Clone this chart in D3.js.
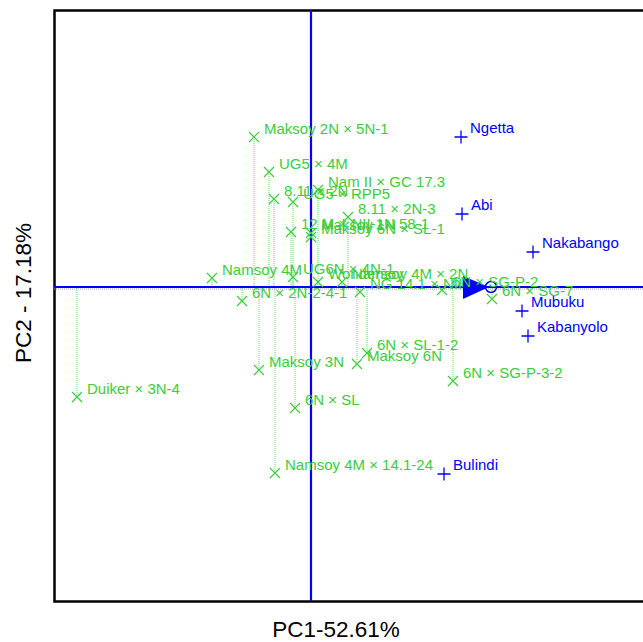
<!DOCTYPE html>
<html><head><meta charset="utf-8">
<script src="https://cdn.jsdelivr.net/npm/d3@7"></script>
<style>body{margin:0;background:#fff} svg{display:block}</style>
</head><body>
<svg id="chart" width="643" height="642"></svg>
<script>
// Genotype scores (PC1, PC2)
const genotypes = [
  "Maksoy 2N \u00d7 5N-1", "UG5 \u00d7 4M", "8.11 \u00d7 2N", "UG5 \u00d7 RPP5", "Nam II \u00d7 GC 17.3",
  "8.11 \u00d7 2N-3", "12 M \u00d7 NII-1N 58-1", "Maksoy 1N", "Maksoy 6N \u00d7 SL-1", "Namsoy 4M",
  "UG6N \u00d7 4N-1", "Wondersoy", "Namsoy 4M \u00d7 2N", "NG 14.1 \u00d7 NII", "6N \u00d7 2N-2-4-1",
  "6N \u00d7 SG-P-2", "6N \u00d7 SG-7", "6N \u00d7 SL-1-2", "Maksoy 6N", "6N \u00d7 SG-P-3-2",
  "Maksoy 3N", "Duiker \u00d7 3N-4", "6N \u00d7 SL", "Namsoy 4M \u00d7 14.1-24"
];
const genoPC1 = [-0.57, -0.42, -0.37, -0.18, 0.07, 0.37, -0.20, 0.00, 0.00, -0.99,
  -0.18, 0.07, 0.31, 0.49, -0.69, 1.31, 1.81, 0.56, 0.46, 1.42, -0.52, -2.34, -0.16, -0.36];
const genoPC2 = [1.50, 1.15, 0.88, 0.85, 0.97, 0.70, 0.55, 0.54, 0.50, 0.09,
  0.10, 0.05, 0.05, -0.05, -0.14, -0.03, -0.12, -0.66, -0.77, -0.94, -0.83, -1.10, -1.21, -1.86];

// Environment scores (PC1, PC2)
const environments = ["Ngetta", "Abi", "Nakabango", "Mubuku", "Kabanyolo", "Bulindi"];
const envPC1 = [1.50, 1.51, 2.22, 2.11, 2.17, 1.33];
const envPC2 = [1.50, 0.73, 0.35, -0.24, -0.49, -1.87];

// Average environment coordinate
const averageEnv = [1.80, 0.0];

const xTitle = "PC1-52.61%";
const yTitle = "PC2 - 17.18%";

const green = "#3ccc3c", blue = "#0000ff";
const svg = d3.select("#chart");
const x = d3.scaleLinear().domain([-2.57, 3.34]).range([54, 645]);
const y = d3.scaleLinear().domain([-3.14, 2.77]).range([601, 10]);

const geno = genotypes.map((name, i) => ({name, pc1: genoPC1[i], pc2: genoPC2[i]}));
const envs = environments.map((name, i) => ({name, pc1: envPC1[i], pc2: envPC2[i]}));

// projections of genotypes onto the average-environment axis
svg.append("g").selectAll("line").data(geno).join("line")
  .attr("x1", d => x(d.pc1)).attr("x2", d => x(d.pc1))
  .attr("y1", d => y(d.pc2)).attr("y2", y(0))
  .attr("stroke", "#6fd86f").attr("stroke-width", 1).attr("stroke-dasharray", "1,1");

// frame
svg.append("rect").attr("x", 54.5).attr("y", 10.5).attr("width", 591).attr("height", 591)
  .attr("fill", "none").attr("stroke", "#000").attr("stroke-width", 2.5);

// average-environment axis and its ordinate
svg.append("line").attr("x1", 54).attr("x2", 645).attr("y1", y(0) + 2).attr("y2", y(0) + 2)
  .attr("stroke", "#9a9ac8").attr("stroke-width", 1).attr("stroke-dasharray", "1,1");
svg.append("line").attr("x1", 54).attr("x2", 645).attr("y1", y(0)).attr("y2", y(0))
  .attr("stroke", blue).attr("stroke-width", 2.2);
svg.append("line").attr("x1", x(0)).attr("x2", x(0)).attr("y1", 10).attr("y2", 601)
  .attr("stroke", blue).attr("stroke-width", 2.2);

// arrow towards the average environment
const ax = x(averageEnv[0]), ay = y(averageEnv[1]);
svg.append("path")
  .attr("d", `M${ax - 28},${ay - 11} L${ax - 2},${ay} L${ax - 28},${ay + 12} Z`)
  .attr("fill", blue);
svg.append("circle").attr("cx", ax).attr("cy", ay).attr("r", 5.5)
  .attr("fill", "none").attr("stroke", blue).attr("stroke-width", 1.5);

// genotype markers (x)
const gm = svg.append("g").attr("stroke", green).attr("stroke-width", 1.2);
gm.selectAll("path").data(geno).join("path")
  .attr("d", d => { const cx = x(d.pc1), cy = y(d.pc2), s = 5;
    return `M${cx - s},${cy - s}L${cx + s},${cy + s}M${cx - s},${cy + s}L${cx + s},${cy - s}`; });

// environment markers (+)
const em = svg.append("g").attr("stroke", blue).attr("stroke-width", 1.3);
em.selectAll("path").data(envs).join("path")
  .attr("d", d => { const cx = x(d.pc1), cy = y(d.pc2), s = 6.5;
    return `M${cx - s},${cy}L${cx + s},${cy}M${cx},${cy - s}L${cx},${cy + s}`; });

const font = "'Liberation Sans', Arial, Helvetica, sans-serif";
svg.append("g").selectAll("text").data(geno).join("text")
  .attr("x", d => x(d.pc1) + 10).attr("y", d => y(d.pc2) - 3)
  .attr("fill", green).attr("font-family", font).attr("font-size", 15)
  .text(d => d.name);
svg.append("g").selectAll("text").data(envs).join("text")
  .attr("x", d => x(d.pc1) + 9).attr("y", d => y(d.pc2) - 4)
  .attr("fill", blue).attr("font-family", font).attr("font-size", 15)
  .text(d => d.name);

// axis titles
svg.append("text").attr("x", 336).attr("y", 637).attr("text-anchor", "middle")
  .attr("font-family", font).attr("font-size", 22.5).attr("fill", "#000").text(xTitle);
svg.append("text").attr("transform", "translate(31,293) rotate(-90)").attr("text-anchor", "middle")
  .attr("font-family", font).attr("font-size", 22.5).attr("fill", "#000").text(yTitle);
</script>
</body></html>
